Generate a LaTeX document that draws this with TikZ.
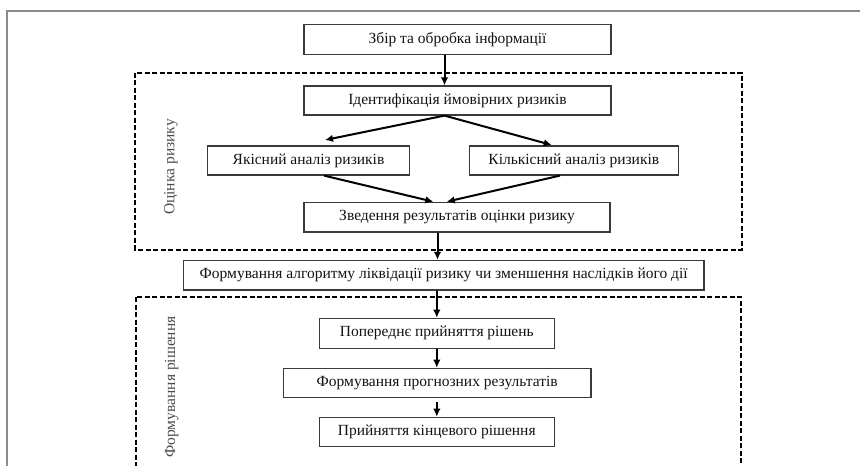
\documentclass[tikz,border=0pt]{standalone}
\usepackage{fontspec}
\setmainfont{Liberation Serif}
\usetikzlibrary{arrows.meta}
\definecolor{boxline}{HTML}{3A3A3A}
\definecolor{txt}{HTML}{141414}
\definecolor{frame}{HTML}{8C8C8C}
\begin{document}
\begin{tikzpicture}[x=1pt,y=-1pt,
  box/.style={draw=boxline,line width=1.2pt,fill=white,rectangle,inner sep=0pt,
    font=\fontsize{15.5}{18}\selectfont,text=txt},
  arr/.style={line width=2pt,-{Latex[length=8pt,width=7.5pt]}},
  group/.style={draw=black,line width=1.8pt,dash pattern=on 5pt off 2.5pt},
  vlabel/.style={rotate=90,font=\fontsize{15.5}{18}\selectfont,text=black!70}]
\useasboundingbox (0,0) rectangle (860,466);
\begin{scope}
\clip (0,0) rectangle (860,466);
% outer frame
\draw[frame,line width=2pt] (6.7,480) -- (6.7,11) -- (870,11);
% groups
\draw[group] (135,72.7) rectangle (741.7,249.7);
\draw[group] (136,297) rectangle (741,490);
\end{scope}
% nodes
\node[box,minimum width=307pt,minimum height=30pt] (n0) at (457.5,39.3) {Збір та обробка інформації};
\node[box,minimum width=307pt,minimum height=29pt] (n1) at (457.5,100.5) {Ідентифікація ймовірних ризиків};
\node[box,minimum width=201.6pt,minimum height=29pt] (n2) at (308.5,160.5) {Якісний аналіз ризиків};
\node[box,minimum width=209pt,minimum height=29pt] (n3) at (573.8,160.5) {Кількісний аналіз ризиків};
\node[box,minimum width=306pt,minimum height=29.5pt] (n4) at (457,217.3) {Зведення результатів оцінки ризику};
\node[box,minimum width=520.5pt,minimum height=29.5pt] (n5) at (443.7,275.2) {Формування алгоритму ліквідації ризику чи зменшення наслідків його дії};
\node[box,minimum width=235pt,minimum height=30pt] (n6) at (436.8,333.3) {Попереднє прийняття рішень};
\node[box,minimum width=307.7pt,minimum height=29pt] (n7) at (437.2,382.8) {Формування прогнозних результатів};
\node[box,minimum width=235pt,minimum height=29.4pt] (n8) at (436.8,432) {Прийняття кінцевого рішення};
% side labels
\node[vlabel] (l1) at (171,167) {Оцінка ризику};
\node[vlabel] (l2) at (171.7,387) {Формування рішення};
% helper coordinates
\coordinate (ax) at (444.5,0);
\coordinate (tq) at (325,140);
\coordinate (tk) at (551.7,145);
\coordinate (sq) at (324,0);
\coordinate (sk) at (560,0);
\coordinate (zq) at (433.3,201.7);
\coordinate (zk) at (446.7,201.7);
\coordinate (bx) at (437.5,0);
% connectors
\draw[arr] (n0.south -| ax) -- (n1.north -| ax);
\draw[arr] (n1.south -| ax) -- (tq);
\draw[arr] (n1.south -| ax) -- (tk);
\draw[arr] (n2.south -| sq) -- (zq);
\draw[arr] (n3.south -| sk) -- (zk);
\draw[arr] (n4.south -| bx) -- (n5.north -| bx);
\draw[arr] (n5.south -| n6.north) -- (n6.north);
\draw[arr] (n6.south) -- (n7.north -| n6.south);
\draw[arr,shorten <=4pt] (n7.south -| n8.north) -- (n8.north);
\end{tikzpicture}
\end{document}
